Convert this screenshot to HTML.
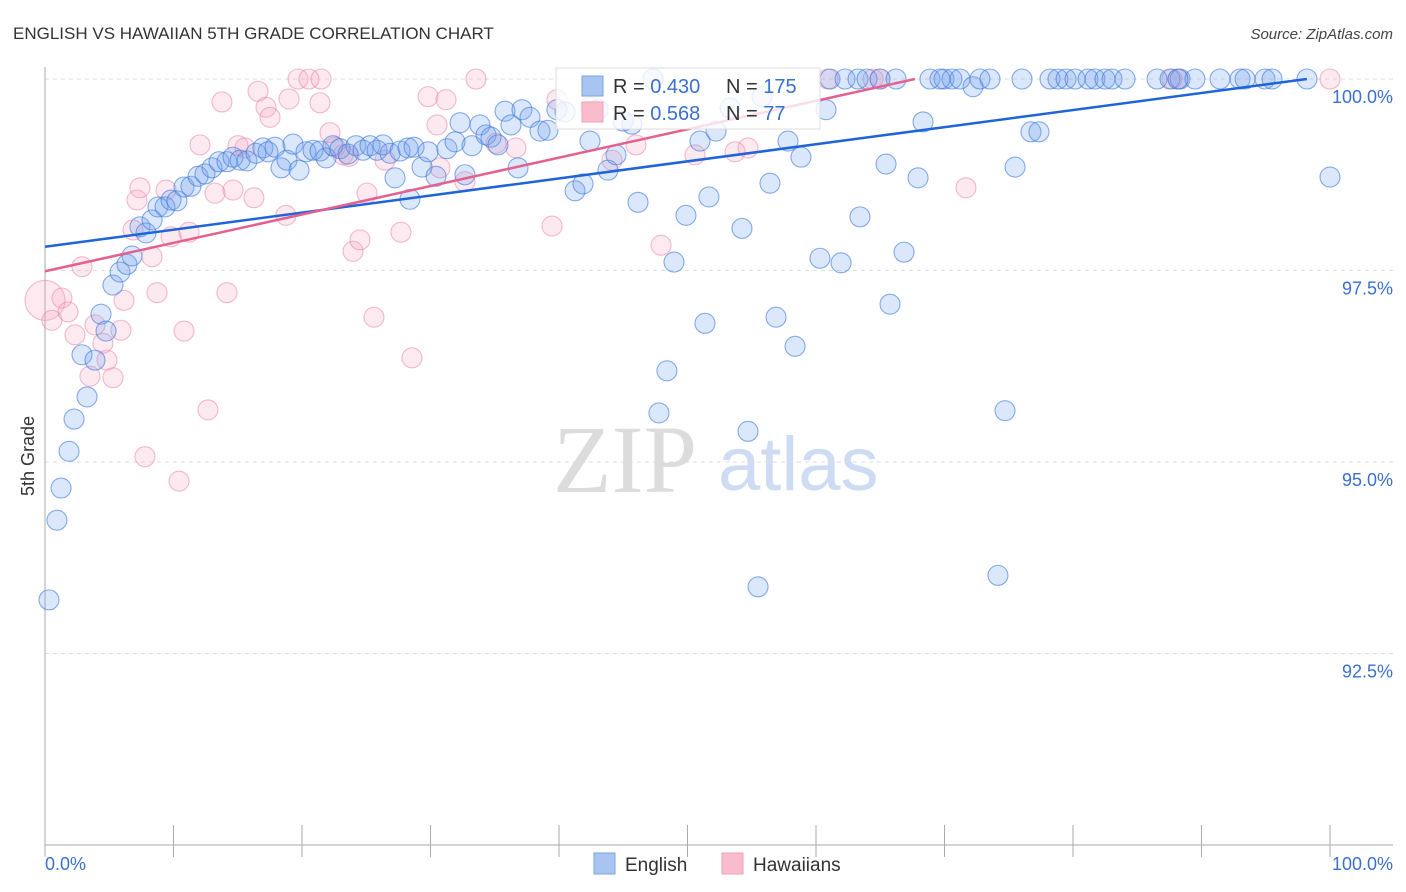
<!DOCTYPE html>
<html><head><meta charset="utf-8"><style>
body{margin:0;background:#fff;font-family:"Liberation Sans",sans-serif;}
#c{position:absolute;left:0;top:0;width:1406px;height:892px;}
</style></head><body>
<svg id="c" width="1406" height="892" xmlns="http://www.w3.org/2000/svg">
<text x="13" y="39" font-size="17" fill="#333">ENGLISH VS HAWAIIAN 5TH GRADE CORRELATION CHART</text>
<text x="1393" y="39" font-size="15" fill="#444" text-anchor="end" font-style="italic">Source: ZipAtlas.com</text>
<g>
<text x="553" y="492" font-size="96" font-family="Liberation Serif,serif" fill="#dcdcdc">ZIP</text>
<text x="718" y="490" font-size="76" fill="#cddcf2">atlas</text>
</g>
<g id="grid"></g>
<g id="axes"></g>
<g id="pts"></g>
<g id="lines"></g>
<text transform="translate(34,456) rotate(-90)" font-size="18" fill="#333" text-anchor="middle">5th Grade</text>
<g>
<rect x="556" y="68" width="264" height="61" fill="#fff" fill-opacity="0.8" stroke="#ddd"/>
<rect x="582" y="76" width="21" height="20" fill="#a8c4f0" stroke="#7aa3e6"/>
<rect x="582" y="102" width="21" height="20" fill="#f8bccd" stroke="#f0a0b8"/>
<text x="613" y="93" font-size="20" fill="#333">R = <tspan fill="#3a70d0">0.430</tspan></text>
<text x="726" y="93" font-size="20" fill="#333">N = <tspan fill="#3a70d0">175</tspan></text>
<text x="613" y="120" font-size="20" fill="#333">R = <tspan fill="#3a70d0">0.568</tspan></text>
<text x="726" y="120" font-size="20" fill="#333">N = <tspan fill="#3a70d0">  77</tspan></text>
</g>
<g>
<rect x="594" y="853" width="21" height="21" fill="#a8c4f0" stroke="#7aa3e6"/>
<text x="625" y="871" font-size="19" fill="#333">English</text>
<rect x="722" y="853" width="21" height="21" fill="#f8bccd" stroke="#f0a0b8"/>
<text x="753" y="871" font-size="19" fill="#333">Hawaiians</text>
</g>
</svg>
<script>
const blueX=[0.31,0.93,1.25,1.87,2.26,3.27,2.88,3.89,4.36,4.75,5.29,5.84,6.38,6.77,7.39,7.86,8.33,8.79,9.34,9.81,10.27,10.82,11.36,11.91,12.45,13.00,13.54,14.16,14.63,15.18,15.72,16.42,16.96,17.35,17.90,18.37,18.83,19.30,19.77,20.31,20.86,21.40,21.87,22.41,22.96,23.58,24.20,24.75,25.29,25.84,26.30,26.85,27.24,27.63,28.25,28.72,28.40,29.34,29.81,30.43,31.28,31.91,32.30,32.68,33.23,33.85,34.32,34.71,35.25,35.80,36.26,36.81,37.12,37.74,38.52,39.14,39.84,40.47,41.25,41.87,42.41,43.04,43.81,44.44,44.98,45.68,46.15,47.32,47.78,48.40,48.95,49.88,50.97,51.36,51.67,52.22,53.31,54.24,54.71,55.49,55.80,56.42,56.89,57.82,58.37,58.83,60.31,60.78,61.95,61.09,62.26,63.27,63.97,64.98,63.42,65.45,65.76,66.23,66.85,67.94,68.33,68.87,69.96,70.58,71.21,72.22,72.76,73.54,74.16,74.71,75.49,76.03,76.73,77.35,78.21,78.83,79.46,80.16,81.17,81.71,82.49,83.04,84.05,86.54,87.55,88.33,89.49,91.44,93.00,93.39,94.94,95.49,98.21,100.0,88.17,69.65];
const blueY=[93.20,94.24,94.66,95.14,95.56,95.85,96.40,96.33,96.93,96.71,97.31,97.48,97.58,97.69,98.07,97.99,98.16,98.33,98.33,98.42,98.41,98.59,98.60,98.73,98.76,98.84,98.92,98.92,98.98,98.94,98.93,99.03,99.10,99.05,99.11,98.84,98.94,99.15,98.81,99.05,99.07,99.06,98.97,99.13,99.09,99.02,99.13,99.07,99.13,99.07,99.14,99.03,98.71,99.06,99.10,99.11,98.43,98.85,99.05,98.73,99.09,99.18,99.43,98.75,99.13,99.40,99.27,99.24,99.14,99.58,99.40,98.84,99.60,99.50,99.32,99.33,99.60,99.57,98.54,98.63,99.19,99.60,98.81,99.01,99.45,99.41,98.39,100,95.64,96.19,97.61,98.22,99.19,96.81,98.46,99.32,99.62,98.05,95.40,93.37,99.77,98.64,96.89,99.19,96.51,98.98,97.66,99.60,97.60,100,100,100,100,100,98.20,98.89,97.06,100,97.74,98.71,99.44,100,100,100,100,99.90,100,100,93.52,95.67,98.85,100,99.31,99.31,100,100,100,100,100,100,100,100,100,100,100,100,100,100,100,100,100,100,100,98.72,100,100];
const pinkX=[0,0.54,1.32,1.79,2.33,2.88,3.50,3.89,4.51,4.82,5.29,5.91,6.15,6.85,7.16,7.39,7.78,8.33,8.72,9.42,9.81,10.43,10.82,11.21,12.06,12.68,13.23,13.77,14.16,14.63,15.02,15.56,16.26,16.58,17.20,17.51,18.75,18.99,19.69,20.54,21.48,21.40,22.18,22.57,23.19,23.66,23.97,24.51,25.06,25.60,26.46,27.70,28.56,29.81,30.51,30.74,31.21,32.68,33.54,35.10,36.65,39.46,39.84,42.41,44.12,45.99,47.94,50.58,53.70,54.71,60.93,64.44,64.98,71.67,87.70,88.17,100];
const pinkY=[97.11,96.85,97.14,96.96,96.66,97.55,96.12,96.79,96.55,96.33,96.10,96.72,97.11,98.03,98.42,98.58,95.07,97.68,97.21,98.55,97.94,94.75,96.71,98.00,99.14,95.68,98.51,99.70,97.21,98.55,99.13,99.10,98.45,99.84,99.63,99.50,98.22,99.74,100,100,100,99.69,99.30,99.11,99.01,98.99,97.75,97.90,98.51,96.89,98.94,98.00,96.36,99.77,99.40,98.84,99.73,98.66,100,99.16,99.10,98.08,99.73,99.63,98.94,99.14,97.83,99.01,99.05,99.10,100,100,100,98.58,100,100,100];
const blueTrend=[97.81,100.0];
const blueTrendX=[0,98.2];
const pinkTrend=[97.49,100.0];
const pinkTrendX=[0,67.7];
const yTicks=[100,97.5,95,92.5];
const yTickLabels=["100.0%","97.5%","95.0%","92.5%"];
const xLabels=["0.0%","100.0%"];

const NS="http://www.w3.org/2000/svg";
const X=v=>45+v*12.85;
const Y=v=>79+(100-v)*76.6;
function mk(t,a,p){const e=document.createElementNS(NS,t);for(const k in a)e.setAttribute(k,a[k]);p.appendChild(e);return e;}
const grid=document.getElementById('grid'),axes=document.getElementById('axes'),pts=document.getElementById('pts'),lines=document.getElementById('lines');
yTicks.forEach((t,i)=>{
 const l=mk('line',{x1:45,x2:1393,y1:Y(t),y2:Y(t),stroke:'#ddd','stroke-dasharray':'4,4'},grid);
 
 
 const tx=mk('text',{x:1393,y:Y(t)+24,'font-size':18,fill:'#3a70d0','text-anchor':'end'},axes);
 tx.textContent=yTickLabels[i];
 
 
});
const ax=mk('line',{x1:45,x2:45,y1:67,y2:845,stroke:'#aaa'},axes);


const bx=mk('line',{x1:45,x2:1393,y1:845,y2:845,stroke:'#aaa'},axes);


for(let i=0;i<=10;i++){
 const t=mk('line',{x1:X(i*10),x2:X(i*10),y1:825,y2:857,stroke:'#aaa'},axes);
 
 
}
[[0,'start',45],[100,'end',1393]].forEach((d,i)=>{
 const tx=mk('text',{x:d[2],y:870,'font-size':18,fill:'#3a70d0','text-anchor':d[1]},axes);
 tx.textContent=xLabels[i];
 
 
});
pinkX.forEach((v,i)=>{
 const c=mk('circle',{cx:X(v),cy:Y(pinkY[i]),r:i===0?20:10,fill:'rgba(245,160,185,0.22)',stroke:'rgba(235,130,165,0.55)','stroke-width':1.1},pts);
 
 
});
blueX.forEach((v,i)=>{
 const c=mk('circle',{cx:X(v),cy:Y(blueY[i]),r:10,fill:'rgba(110,160,235,0.25)',stroke:'rgba(60,120,220,0.6)','stroke-width':1.1},pts);
 
 
});
const bl=mk('line',{x1:X(blueTrendX[0]),y1:Y(blueTrend[0]),x2:X(blueTrendX[1]),y2:Y(blueTrend[1]),stroke:'#1f64d8','stroke-width':2.5},lines);


const pl=mk('line',{x1:X(pinkTrendX[0]),y1:Y(pinkTrend[0]),x2:X(pinkTrendX[1]),y2:Y(pinkTrend[1]),stroke:'#e5608f','stroke-width':2.5},lines);


</script>
</body></html>
